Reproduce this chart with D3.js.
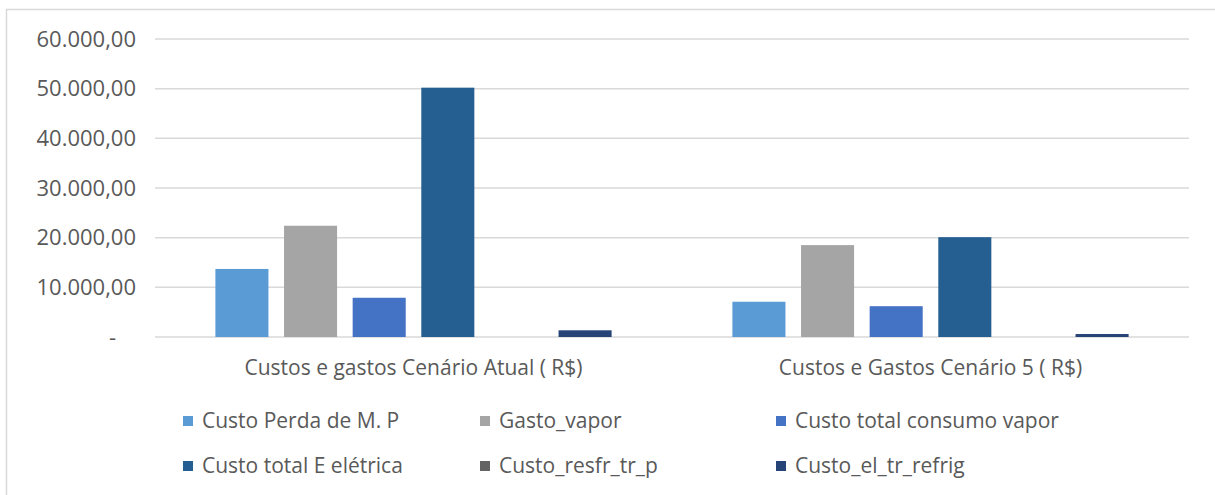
<!DOCTYPE html>
<html>
<head>
<meta charset="utf-8">
<script src="https://cdn.jsdelivr.net/npm/d3@7"></script>
<style>
    body { margin: 0; background: #fff; }
    svg { display: block; font-family: "Open Sans", sans-serif; }
</style>
</head>
<body>
<div id="chart"></div>
<script>
const categories = ["Custos e gastos Cenário Atual ( R$)", "Custos e Gastos Cenário 5 ( R$)"];
const seriesNames = ["Custo Perda de M. P", "Gasto_vapor", "Custo total consumo vapor",
    "Custo total E elétrica", "Custo_resfr_tr_p", "Custo_el_tr_refrig"];
const seriesColors = ["#5B9BD5", "#A5A5A5", "#4472C4", "#255E91", "#636363", "#264478"];
// one row per category, one value per series
const atualValues = [13700, 22400, 7900, 50200, 0, 1350];
const cenario5Values = [7100, 18500, 6200, 20100, 0, 600];
const yTicks = [0, 10000, 20000, 30000, 40000, 50000, 60000];

const W = 1215, H = 495;
const margin = {left: 155, right: 26, top: 39, bottom: 158};

const svg = d3.select("#chart").append("svg")
    .attr("width", W)
    .attr("height", H);

// chart area frame
svg.append("rect")
    .attr("x", 6.5).attr("y", 9.5)
    .attr("width", W + 10).attr("height", H + 10)
    .attr("fill", "none")
    .attr("stroke", "#d9d9d9")
    .attr("stroke-width", 1.5);

const y = d3.scaleLinear()
    .domain([0, 60000])
    .range([H - margin.bottom, margin.top]);

const x0 = d3.scaleBand()
    .domain(categories)
    .range([margin.left, W - margin.right]);

const x1 = d3.scaleBand()
    .domain(seriesNames)
    .range([0, x0.bandwidth()])
    .paddingInner(0.227)
    .paddingOuter(0.88);

const fmt = (v) => v === 0 ? "-" :
    d3.format(",.2f")(v).replace(/,/g, "#").replace(".", ",").replace(/#/g, ".");

// gridlines
svg.append("g")
    .selectAll("line")
    .data(yTicks)
    .join("line")
    .attr("x1", margin.left)
    .attr("x2", W - margin.right)
    .attr("y1", (d) => y(d))
    .attr("y2", (d) => y(d))
    .attr("stroke", "#d9d9d9")
    .attr("stroke-width", 1.5);

// y labels
svg.append("g")
    .selectAll("text")
    .data(yTicks)
    .join("text")
    .attr("x", (d) => d === 0 ? 116 : 136)
    .attr("y", (d) => y(d))
    .attr("dy", "0.35em")
    .attr("text-anchor", "end")
    .attr("fill", "#595959")
    .style("font-size", "22px")
    .text(fmt);

// bars
const rows = [atualValues, cenario5Values];
const groups = svg.append("g")
    .selectAll("g")
    .data(categories)
    .join("g")
    .attr("transform", (d) => `translate(${x0(d)},0)`);

groups.selectAll("rect")
    .data((d, i) => seriesNames.map((s, j) => ({series: s, value: rows[i][j], color: seriesColors[j]})))
    .join("rect")
    .attr("x", (d) => x1(d.series))
    .attr("width", x1.bandwidth())
    .attr("y", (d) => y(d.value))
    .attr("height", (d) => y(0) - y(d.value))
    .attr("fill", (d) => d.color);

// category labels
svg.append("g")
    .selectAll("text")
    .data(categories)
    .join("text")
    .attr("x", (d) => x0(d) + x0.bandwidth() / 2)
    .attr("y", 368)
    .attr("dy", "0.35em")
    .attr("text-anchor", "middle")
    .attr("fill", "#595959")
    .style("font-size", "21px")
    .text((d) => d);

// legend, 3 columns x 2 rows
const legendX = [183, 480, 776];
const legendY = [421, 466];
const legend = svg.append("g")
    .selectAll("g")
    .data(seriesNames)
    .join("g")
    .attr("transform", (d, i) => `translate(${legendX[i % 3]},${legendY[Math.floor(i / 3)]})`);

legend.append("rect")
    .attr("x", 0).attr("y", -5)
    .attr("width", 10).attr("height", 10)
    .attr("fill", (d, i) => seriesColors[i]);

legend.append("text")
    .attr("x", 19)
    .attr("dy", "0.35em")
    .attr("fill", "#595959")
    .style("font-size", "21px")
    .text((d) => d);
</script>
</body>
</html>
